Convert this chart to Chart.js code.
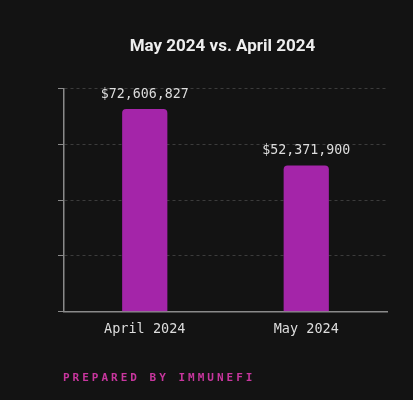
<!DOCTYPE html>
<html>
<head>
<meta charset="utf-8">
<script src="https://cdn.jsdelivr.net/npm/chart.js@4"></script>
<style>
  html, body { margin: 0; padding: 0; background: #131313; }
  #wrap { position: relative; width: 413px; height: 400px; }
  #footer {
    position: absolute; left: 63px; top: 371px;
    font-family: "DejaVu Sans Mono", monospace; font-weight: bold;
    font-size: 11px; letter-spacing: 3px; color: #c8369e;
  }
</style>
</head>
<body>
<div id="wrap">
  <canvas id="myChart" width="413" height="400"></canvas>
  <div id="footer">PREPARED BY IMMUNEFI</div>
</div>
<script>
const categories = ['April 2024', 'May 2024'];
const values = [72606827, 52371900];
const yTicks = [0, 20000000, 40000000, 60000000, 80000000];

const valueLabels = {
    id: 'valueLabels',
    afterDatasetsDraw(chart) {
        const ctx = chart.ctx;
        const meta = chart.getDatasetMeta(0);
        ctx.save();
        ctx.font = '13.3px "DejaVu Sans Mono", monospace';
        ctx.fillStyle = '#dddddd';
        ctx.textAlign = 'center';
        ctx.textBaseline = 'bottom';
        meta.data.forEach((bar, i) => {
            ctx.fillText('$' + values[i].toLocaleString('en-US'), bar.x, bar.y - 8);
        });
        ctx.restore();
    }
};

var ctx = document.getElementById('myChart').getContext('2d');
var myChart = new Chart(ctx, {
    type: 'bar',
    data: {
        labels: categories,
        datasets: [{
            data: values,
            backgroundColor: '#a425a9',
            borderRadius: 4,
            borderSkipped: 'bottom',
            barPercentage: 0.56,
            categoryPercentage: 0.5
        }]
    },
    options: {
        responsive: false,
        animation: false,
        layout: { padding: { top: 37, left: 58, right: 26, bottom: 60 } },
        plugins: {
            legend: { display: false },
            tooltip: { enabled: false },
            title: {
                display: true,
                text: 'May 2024 vs. April 2024',
                color: '#eeeeee',
                font: { family: 'Roboto', size: 17, weight: 'bold' },
                padding: { top: 0, bottom: 31 }
            }
        },
        scales: {
            x: {
                grid: { display: false },
                border: { color: '#8a8a8a', width: 1.5 },
                ticks: {
                    color: '#dddddd',
                    padding: 2,
                    font: { family: '"DejaVu Sans Mono"', size: 13.5 }
                }
            },
            y: {
                min: 0,
                max: 80000000,
                afterBuildTicks: axis => { axis.ticks = yTicks.map(v => ({ value: v })); },
                border: { color: '#8a8a8a', width: 1.5, dash: [3, 3] },
                grid: {
                    color: '#3c3c3c',
                    tickColor: '#8a8a8a',
                    tickLength: 6,
                    tickBorderDash: [],
                    drawTicks: true
                },
                ticks: { display: false }
            }
        }
    },
    plugins: [valueLabels]
});
</script>
</body>
</html>
